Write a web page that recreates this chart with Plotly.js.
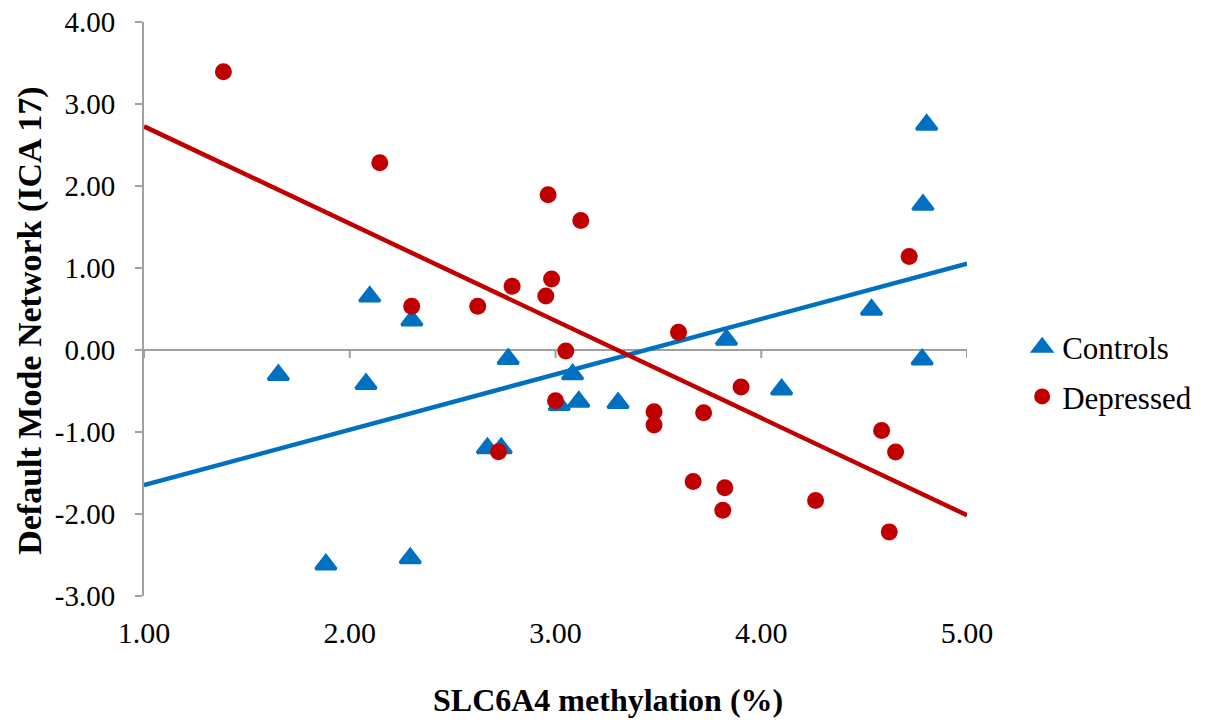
<!DOCTYPE html>
<html>
<head>
<meta charset="utf-8">
<script src="https://cdn.plot.ly/plotly-3.0.1.min.js"></script>
<style>
  html, body { margin: 0; padding: 0; background: #ffffff; }
  #chart { width: 1205px; height: 723px; }
</style>
</head>
<body>
<div id="chart"></div>
<script>
// SLC6A4 methylation (%) vs Default Mode Network (ICA 17) component score
const controlsX = [1.653, 2.079, 2.097, 2.302, 1.884, 2.294, 2.770, 2.669, 2.736, 3.018,
                   3.083, 3.113, 3.304, 3.831, 4.099, 4.536, 4.782, 4.786, 4.804];
const controlsY = [-0.305, -0.415, 0.651, 0.360, -2.615, -2.540, -0.110, -1.197, -1.197, -0.672,
                   -0.297, -0.630, -0.645, 0.126, -0.482, 0.492, -0.116, 1.770, 2.747];

const depressedX = [1.386, 2.146, 2.964, 2.981, 2.953, 2.789, 2.622, 2.301, 3.123, 4.719,
                    2.723, 3.050, 3.000, 3.598, 3.902, 3.479, 3.479, 3.720, 3.669, 3.823,
                    3.813, 4.264, 4.585, 4.653, 4.622];
const depressedY = [3.394, 2.283, 1.893, 0.867, 0.659, 0.778, 0.533, 0.533, 1.579, 1.140,
                    -1.241, -0.012, -0.619, 0.216, -0.452, -0.753, -0.916, -0.765, -1.603, -1.681,
                    -1.954, -1.836, -0.981, -1.245, -2.218];

// Linear trend lines, evaluated at the ends of the x range
const trendX = [1.0, 5.0];
const controlsTrendY = [-1.648, 1.054];
const depressedTrendY = [2.727, -2.015];

const xTicks = [1, 2, 3, 4, 5];
const yTicks = [-3, -2, -1, 0, 1, 2, 3, 4];

const seriesNames = ['Controls', 'Depressed'];

const BLUE = '#0070C0';
const RED = '#C00000';
const AXIS = '#A0A0A0';
const FONT = 'Liberation Serif, Times New Roman, serif';

// labels with a plain hyphen for negatives
const fmt = v => v.toFixed(2);

const traces = [
  {
    x: trendX, y: controlsTrendY, mode: 'lines', type: 'scatter',
    line: { color: BLUE, width: 4.5 }, showlegend: false, hoverinfo: 'skip'
  },
  {
    x: trendX, y: depressedTrendY, mode: 'lines', type: 'scatter',
    line: { color: RED, width: 4.5 }, showlegend: false, hoverinfo: 'skip'
  },
  {
    x: controlsX, y: controlsY, mode: 'markers', type: 'scatter', name: seriesNames[0],
    legendgroup: 'g1',
    marker: { symbol: 'triangle-up', size: 18, color: BLUE, line: { color: BLUE, width: 3 } }
  },
  {
    x: depressedX, y: depressedY, mode: 'markers', type: 'scatter', name: seriesNames[1],
    legendgroup: 'g2',
    marker: { symbol: 'circle', size: 17, color: RED }
  }
];

// short downward tick marks along the zero line
const zeroTicks = xTicks.map(v => ({
  type: 'line', layer: 'below',
  xref: 'x', yref: 'y', ysizemode: 'pixel', yanchor: 0,
  x0: v, x1: v, y0: 0, y1: -8,
  line: { color: AXIS, width: 2 }
}));

const layout = {
  width: 1205, height: 723,
  margin: { l: 144, r: 238, t: 22, b: 127, autoexpand: false },
  paper_bgcolor: '#ffffff', plot_bgcolor: '#ffffff',
  font: { family: FONT, color: '#000000' },
  showlegend: true,
  legend: {
    x: 1.067, xanchor: 'left', y: 0.48, yanchor: 'top',
    font: { family: FONT, size: 31, color: '#000000' },
    tracegroupgap: 6, bgcolor: 'rgba(0,0,0,0)'
  },
  xaxis: {
    range: [1, 5], tickvals: xTicks, ticktext: xTicks.map(fmt),
    showgrid: false, zeroline: false, showline: false, ticks: '',
    tickfont: { family: FONT, size: 30, color: '#000000' },
    ticklabelstandoff: 16
  },
  yaxis: {
    range: [-3, 4], tickvals: yTicks, ticktext: yTicks.map(fmt),
    showgrid: false, showline: true, linecolor: AXIS, linewidth: 2,
    ticks: 'outside', ticklen: 7, tickwidth: 2, tickcolor: AXIS,
    zeroline: true, zerolinecolor: AXIS, zerolinewidth: 2,
    tickfont: { family: FONT, size: 29, color: '#000000' },
    ticklabelstandoff: 14
  },
  shapes: zeroTicks,
  annotations: [
    {
      text: '<b>SLC6A4 methylation (%)</b>', xref: 'paper', yref: 'paper',
      x: 0.564, y: -0.181, xanchor: 'center', yanchor: 'middle', showarrow: false,
      font: { family: FONT, size: 32, color: '#000000' }
    },
    {
      text: '<b>Default Mode Network (ICA 17)</b>', xref: 'paper', yref: 'paper',
      x: -0.1385, y: 0.4795, xanchor: 'center', yanchor: 'middle', showarrow: false,
      textangle: -90,
      font: { family: FONT, size: 34, color: '#000000' }
    }
  ]
};

Plotly.newPlot('chart', traces, layout, { displayModeBar: false, staticPlot: true });
</script>
</body>
</html>
